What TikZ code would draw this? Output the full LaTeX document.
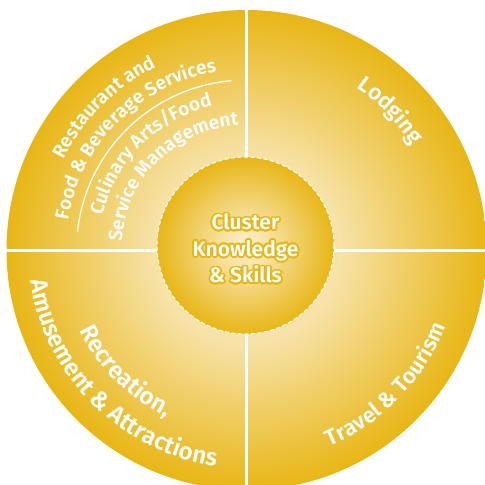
\documentclass[tikz,border=0pt]{standalone}
\usepackage{fontspec}
\setmainfont{Fira Sans SemiBold}
\usepackage{tikz}
\usetikzlibrary{decorations.text}
\definecolor{gold}{HTML}{E8B615}
\definecolor{cream}{HTML}{F7E3AA}
\definecolor{ivory}{HTML}{FCF2D6}
\pgfdeclareradialshading{ringshade}{\pgfpoint{0bp}{0bp}}{color(0bp)=(cream); color(9.5bp)=(cream); color(25bp)=(gold); color(50bp)=(gold)}
\pgfdeclareradialshading{coreshade}{\pgfpoint{0bp}{0bp}}{color(0bp)=(ivory); color(25bp)=(gold); color(50bp)=(gold)}
\newcommand\bigsector{\fontsize{22}{26}\selectfont\color{white}}
\newcommand\widesector{\fontsize{24}{28}\selectfont\color{white}}
\newcommand\smallsector{\fontsize{19}{22}\selectfont\color{white}}
\newcommand\hubfont{\fontsize{21}{26.5}\selectfont}
\tikzset{
    every picture/.style={line width=0.5pt},
    divider/.style={draw=white,line width=3pt},
    rim/.style={draw=white,line width=1.3pt},
    sector text/.style={decorate,decoration={text along path,text align=center,text={#1}}},
    core/.style={circle,minimum size=177pt,inner sep=0pt,shade,shading=coreshade,draw=white,dash pattern=on 4pt off 2.5pt,line width=1.1pt},
    hub/.style={align=center,font=\hubfont,inner sep=0pt}
}

\begin{document}
\begin{tikzpicture}[x=1pt,y=1pt]
    \useasboundingbox (-246.5,-235) rectangle (238.5,250);

    % Outer wheel
    \shade[shading=ringshade] (0,0) circle[radius=240];
    \coordinate (top) at (90:240);
    \coordinate (bottom) at (270:240);
    \coordinate (left) at (180:240);
    \coordinate (right) at (0:240);
    \draw[divider] (top) -- (bottom);
    \draw[divider] (left) -- (right);

    % Hub
    \node[core] (core) at (-1,4.5) {};
    \coordinate (hubpos) at (-1,1.5);
    \foreach \a in {0,20,...,340}
        \node[hub,text=gold] (halo\a) at ([shift={(\a:1.8)}]hubpos) {Cluster\\Knowledge\\\&\ Skills};
    \node[hub,text=white] (hub) at (hubpos) {Cluster\\Knowledge\\\&\ Skills};

    % Upper left sector
    \path[sector text={|\smallsector|Restaurant and}] (180:204) arc[start angle=180,end angle=90,radius=204];
    \path[sector text={|\smallsector|Food {\&} Beverage Services}] (180:181) arc[start angle=180,end angle=90,radius=181];
    \draw[rim] (174:170) arc[start angle=174,end angle=95,radius=170];
    \path[sector text={|\smallsector|Culinary Arts/Food}] (180:148) arc[start angle=180,end angle=90,radius=148];
    \path[sector text={|\smallsector|Service Management}] (180:125) arc[start angle=180,end angle=90,radius=125];

    % Upper right sector
    \path[sector text={|\bigsector|Lodging}] (89:196) arc[start angle=89,end angle=-1,radius=196];

    % Lower left sector
    \path[sector text={|\widesector|Recreation,}] (180:185) arc[start angle=180,end angle=270,radius=185];
    \path[sector text={|\widesector|Amusement {\&} Attractions}] (180:218) arc[start angle=180,end angle=270,radius=218];

    % Lower right sector
    \path[sector text={|\bigsector|Travel {\&} Tourism}] (-89:213) arc[start angle=-89,end angle=1,radius=213];
\end{tikzpicture}
\end{document}
